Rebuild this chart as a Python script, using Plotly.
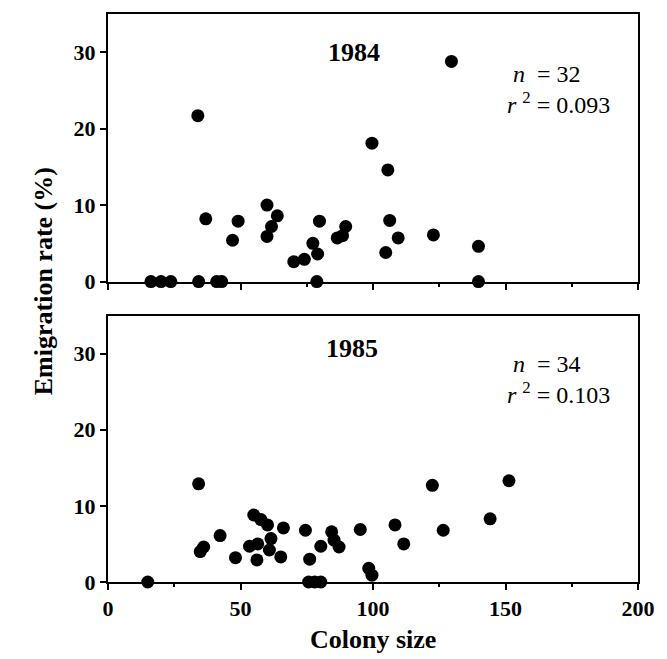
import plotly.graph_objects as go

# 1984 panel
x_1984 = [33.9, 36.9, 49.1, 47.0, 60.0, 63.9, 61.7, 60.0, 70.1, 74.1, 77.3, 79.1,
          79.8, 86.5, 88.5, 89.7, 99.6, 105.6, 106.3, 104.8, 109.5, 129.6, 122.8, 139.8,
          16.2, 20.0, 23.7, 34.2, 41.0, 42.9, 78.8, 139.8]
y_1984 = [21.7, 8.2, 7.9, 5.4, 10.0, 8.6, 7.2, 5.9, 2.6, 2.9, 5.0, 3.6,
          7.9, 5.7, 6.0, 7.2, 18.1, 14.6, 8.0, 3.8, 5.7, 28.8, 6.1, 4.6,
          0, 0, 0, 0, 0, 0, 0, 0]

# 1985 panel
x_1985 = [34.2, 36.1, 34.8, 42.3, 48.1, 53.4, 56.5, 56.2, 55.0, 57.7, 60.2, 61.5,
          60.9, 65.2, 66.2, 74.5, 76.1, 80.3, 84.4, 85.3, 87.2, 95.2, 98.4, 99.6,
          108.3, 111.6, 122.4, 126.5, 144.2, 151.3,
          15.0, 75.7, 78.0, 80.3]
y_1985 = [12.9, 4.6, 4.0, 6.1, 3.2, 4.7, 5.0, 2.9, 8.8, 8.2, 7.5, 5.7,
          4.2, 3.3, 7.1, 6.8, 3.0, 4.7, 6.6, 5.5, 4.6, 6.9, 1.8, 0.9,
          7.5, 5.0, 12.7, 6.8, 8.3, 13.3,
          0, 0, 0, 0]

x_ticks = [0, 50, 100, 150, 200]
x_tick_labels = ["0", "50", "100", "150", "200"]
y_ticks = [0, 10, 20, 30]
y_tick_labels = ["0", "10", "20", "30"]

SERIF = "Liberation Serif"
W, H = 667, 659
L, R, T, B = 108, 21, 13, 77

fig = go.Figure()
fig.add_trace(go.Scatter(x=x_1984, y=y_1984, mode="markers", xaxis="x2", yaxis="y2",
                         marker=dict(color="black", size=13, line=dict(width=0)),
                         cliponaxis=False, showlegend=False))
fig.add_trace(go.Scatter(x=x_1985, y=y_1985, mode="markers", xaxis="x", yaxis="y",
                         marker=dict(color="black", size=13, line=dict(width=0)),
                         cliponaxis=False, showlegend=False))

axis_common = dict(showline=True, linecolor="black", linewidth=2, mirror=True,
                   ticks="outside", ticklen=6, tickwidth=2, tickcolor="black",
                   showgrid=False, zeroline=False,
                   tickfont=dict(family=SERIF, size=22, color="black"))

bold = lambda labels: ["<b>%s</b>" % s for s in labels]

fig.update_layout(
    width=W, height=H,
    margin=dict(l=L, r=R, t=T, b=B),
    paper_bgcolor="white", plot_bgcolor="white",
    xaxis=dict(domain=[0, 1], range=[0, 200], tickvals=x_ticks, ticktext=bold(x_tick_labels),
               anchor="y",
               minor=dict(ticks="outside", ticklen=3, tickwidth=1.5, tickcolor="black", dtick=25),
               **axis_common),
    yaxis=dict(domain=[0, 0.469], range=[0, 35], tickvals=y_ticks, ticktext=bold(y_tick_labels),
               anchor="x", **axis_common),
    xaxis2=dict(domain=[0, 1], range=[0, 200], tickvals=x_ticks, anchor="y2",
                showticklabels=False,
                minor=dict(ticks="outside", ticklen=3, tickwidth=1.5, tickcolor="black", dtick=25),
                **axis_common),
    yaxis2=dict(domain=[0.529, 1], range=[0, 35], tickvals=y_ticks, ticktext=bold(y_tick_labels),
                anchor="x2", **axis_common),
)

ann = []
ann.append(dict(text="<b>1984</b>", x=93, y=29.9, xref="x2", yref="y2", showarrow=False,
                font=dict(family=SERIF, size=26, color="black")))
ann.append(dict(text="<b>1985</b>", x=92, y=30.7, xref="x", yref="y", showarrow=False,
                font=dict(family=SERIF, size=26, color="black")))
stat_font = dict(family=SERIF, size=24, color="black")
ann.append(dict(text="\u00a0<i>n</i>\u00a0\u00a0= 32<br><i>r</i>\u00a0<sup>2</sup> = 0.093",
                x=149.8, y=25.1, xref="x2", yref="y2", align="left",
                xanchor="left", yanchor="middle", showarrow=False, font=stat_font))
ann.append(dict(text="\u00a0<i>n</i>\u00a0\u00a0= 34<br><i>r</i>\u00a0<sup>2</sup> = 0.103",
                x=149.8, y=26.6, xref="x", yref="y", align="left",
                xanchor="left", yanchor="middle", showarrow=False, font=stat_font))
ann.append(dict(text="<b>Colony size</b>", x=0.5, y=-(640 - 582) / (H - T - B),
                xref="paper", yref="paper", showarrow=False, yanchor="middle",
                font=dict(family=SERIF, size=26, color="black")))
ann.append(dict(text="<b>Emigration rate (%)</b>", x=(26 - L) / (W - L - R),
                y=(582 - 281) / (H - T - B), xref="paper", yref="paper",
                showarrow=False, textangle=-90,
                font=dict(family=SERIF, size=26, color="black")))
fig.update_layout(annotations=ann)

fig.write_html("out.html")
